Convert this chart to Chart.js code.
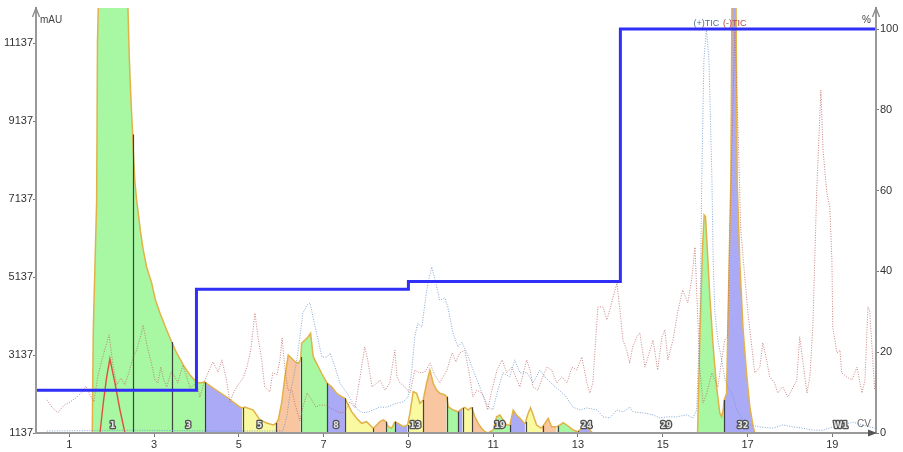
<!DOCTYPE html>
<html>
<head>
<meta charset="utf-8">
<script src="https://cdn.jsdelivr.net/npm/chart.js@4.4.1/dist/chart.umd.min.js"></script>
<style>
  html, body { margin: 0; padding: 0; background: #fff; }
</style>
</head>
<body>
<canvas id="chart" width="903" height="452"></canvas>
<script>
// axis ticks
const cvTicks = [1, 3, 5, 7, 9, 11, 13, 15, 17, 19];
const mauTicks = [1137, 3137, 5137, 7137, 9137, 11137];
const pctTicks = [0, 20, 40, 60, 80, 100];

// gradient (% B) - [CV, %]
const gradient = [[0.215, 10.6], [4.0, 35.6], [9.0, 37.5], [14.0, 100], [20.03, 100]];

// UV trace - [CV, mAU]
const uv = [
  [0.215, 1137], [1.542, 1137], [1.566, 3781], [1.646, 7118], [1.665, 11148], [1.684, 12047],
  [1.72, 13500], [2.0, 14200], [2.3, 13600], [2.384, 12047], [2.415, 10789], [2.455, 9685],
  [2.491, 8915], [2.509, 8402], [2.55, 7555], [2.59, 7118], [2.684, 6271], [2.745, 5835],
  [2.825, 5398], [2.943, 4988], [3.033, 4551], [3.139, 4217], [3.297, 3781], [3.415, 3473],
  [3.533, 3191], [3.689, 2883], [3.847, 2626], [4.005, 2446], [4.083, 2421], [4.177, 2446],
  [4.2, 2440], [4.396, 2292], [4.712, 2061], [5.026, 1804], [5.08, 1779], [5.144, 1804],
  [5.34, 1727], [5.498, 1471], [5.656, 1394], [5.811, 1342], [5.875, 1381], [5.929, 1471],
  [6.009, 1907], [6.087, 2582], [6.165, 3139], [6.245, 3055], [6.323, 2967], [6.401, 2926],
  [6.458, 3011], [6.481, 3440], [6.559, 3524], [6.637, 3609], [6.693, 3696], [6.755, 3096],
  [6.835, 2926], [6.953, 2670], [7.085, 2413], [7.189, 2326], [7.307, 2156], [7.425, 2069],
  [7.502, 2028], [7.542, 1940], [7.66, 1684], [7.778, 1514], [7.896, 1386], [8.014, 1427],
  [8.132, 1299], [8.17, 1258], [8.25, 1342], [8.328, 1427], [8.406, 1471], [8.469, 1427],
  [8.524, 1299], [8.604, 1258], [8.682, 1427], [8.759, 1386], [8.877, 1299], [8.981, 1342],
  [9.035, 1643], [9.113, 2197], [9.193, 2156], [9.271, 1899], [9.349, 1984], [9.429, 2413],
  [9.507, 2754], [9.585, 2413], [9.665, 2241], [9.743, 2156], [9.861, 2112], [9.901, 2069],
  [9.939, 1812], [10.057, 1727], [10.175, 1684], [10.215, 1727], [10.278, 1771], [10.333, 1797],
  [10.41, 1727], [10.491, 1797], [10.568, 1555], [10.646, 1386], [10.726, 1258], [10.804, 1170],
  [10.882, 1137], [11.0, 1214], [11.08, 1555], [11.158, 1599], [11.236, 1471], [11.316, 1342],
  [11.394, 1342], [11.472, 1727], [11.552, 1599], [11.67, 1471], [11.748, 1368], [11.826, 1643],
  [11.882, 1786], [11.943, 1599], [12.024, 1342], [12.141, 1258], [12.219, 1386], [12.297, 1514],
  [12.377, 1299], [12.495, 1299], [12.573, 1342], [12.651, 1401], [12.769, 1317], [12.887, 1214],
  [12.991, 1170], [13.085, 1258], [13.163, 1342], [13.281, 1214], [13.344, 1137], [15.821, 1137],
  [15.851, 2497], [15.892, 4210], [15.939, 5919], [15.976, 6733], [16.009, 6689], [16.047, 5919],
  [16.111, 4636], [16.189, 3352], [16.269, 2326], [16.347, 1643], [16.387, 1555], [16.425, 1727],
  [16.448, 1984], [16.505, 2156], [16.542, 4210], [16.582, 6348], [16.606, 7632], [16.64, 13500],
  [16.72, 13500], [16.755, 7632], [16.818, 5493], [16.896, 3781], [16.976, 2670], [17.054, 1812],
  [17.132, 1299], [17.172, 1137], [20.03, 1137]
];

// second UV wavelength - [CV, mAU]
const uv2 = [[1.724, 1137], [1.802, 1907], [1.882, 2575], [1.958, 3037], [2.077, 2421], [2.196, 1727], [2.314, 1137]];

// (+)TIC - [CV, %]
const ticPlus = [
  [0.47, 0.5], [2.5, 0.7], [4.5, 0.5], [6.04, 0.5], [6.13, 4.0], [6.21, 9.9], [6.28, 13.1], [6.37, 18.1],
  [6.44, 23.8], [6.51, 29.7], [6.61, 31.7], [6.68, 32.2], [6.75, 28.7], [6.87, 23.0], [6.96, 18.8],
  [7.08, 18.8], [7.15, 19.8], [7.27, 16.3], [7.38, 12.4], [7.55, 9.9], [7.69, 7.4], [7.81, 5.7],
  [7.93, 5.0], [8.05, 5.2], [8.16, 5.7], [8.33, 6.4], [8.49, 6.4], [8.61, 6.9], [8.73, 7.4], [8.87, 7.7],
  [8.99, 8.9], [9.08, 15.6], [9.15, 23.8], [9.22, 27.2], [9.32, 26.2], [9.39, 32.2], [9.46, 37.1],
  [9.55, 41.1], [9.63, 37.9], [9.74, 32.9], [9.86, 33.4], [9.93, 31.2], [10.05, 24.8], [10.17, 21.3],
  [10.26, 22.5], [10.38, 19.8], [10.5, 16.3], [10.62, 13.1], [10.73, 10.1], [10.88, 6.4], [10.99, 5.7],
  [11.11, 10.6], [11.23, 14.9], [11.39, 13.9], [11.51, 18.1], [11.63, 14.9], [11.8, 14.9], [11.94, 12.4],
  [12.1, 15.6], [12.22, 13.9], [12.34, 12.6], [12.5, 11.1], [12.69, 9.4], [12.88, 6.4], [13.05, 5.7],
  [13.21, 6.2], [13.45, 5.7], [13.59, 4.0], [13.75, 3.7], [13.92, 5.7], [14.06, 5.2], [14.22, 6.4],
  [14.3, 5.2], [14.53, 5.0], [14.77, 4.5], [14.93, 3.7], [15.1, 4.0], [15.33, 4.0], [15.57, 4.5],
  [15.71, 3.7], [15.8, 5.7], [15.88, 29.7], [15.92, 62.6], [15.97, 92.3], [16.03, 100], [16.09, 92.3],
  [16.16, 62.6], [16.19, 42.1], [16.23, 29.7], [16.3, 23.0], [16.39, 18.1], [16.47, 13.1], [16.54, 11.4],
  [16.63, 9.9], [16.75, 5.7], [16.89, 3.2], [17.05, 2.0], [17.29, 1.5], [17.6, 1.2], [17.83, 2.0],
  [18.07, 1.5], [18.3, 1.2], [18.54, 0.7], [18.78, 0.7], [19.01, 1.5], [19.25, 2.0], [19.48, 2.7],
  [19.72, 2.0], [20.0, 1.2]
];

// (-)TIC - [CV, %]
const ticMinus = [
  [0.47, 8.2], [0.59, 6.4], [0.73, 5.0], [0.88, 6.9], [1.02, 7.7], [1.16, 8.7], [1.3, 10.1], [1.39, 11.6],
  [1.49, 9.4], [1.58, 7.7], [1.68, 14.4], [1.77, 18.1], [1.87, 21.8], [1.94, 24.3], [2.03, 16.8],
  [2.12, 11.9], [2.22, 13.6], [2.31, 11.9], [2.41, 15.1], [2.5, 18.6], [2.59, 20.5], [2.69, 24.3],
  [2.74, 26.7], [2.83, 21.8], [2.93, 17.6], [3.02, 13.1], [3.09, 12.4], [3.16, 16.3], [3.23, 13.1],
  [3.3, 11.4], [3.4, 15.1], [3.47, 14.4], [3.56, 12.4], [3.68, 16.8], [3.78, 13.6], [3.85, 11.1],
  [3.94, 11.9], [4.01, 12.4], [4.08, 8.9], [4.2, 13.1], [4.3, 15.6], [4.39, 17.6], [4.51, 15.1],
  [4.6, 18.1], [4.7, 13.6], [4.79, 7.7], [4.88, 10.1], [4.98, 11.9], [5.1, 13.6], [5.19, 16.3],
  [5.28, 20.5], [5.38, 29.7], [5.45, 23.8], [5.54, 18.1], [5.61, 11.4], [5.73, 10.1], [5.8, 14.9],
  [5.9, 14.4], [5.97, 18.1], [6.02, 23.5], [6.09, 15.6], [6.16, 10.6], [6.25, 10.6], [6.32, 7.4],
  [6.44, 3.0], [6.51, 6.4], [6.61, 9.9], [6.72, 8.2], [6.82, 6.4], [6.91, 6.9], [7.03, 6.9], [7.15, 6.2],
  [7.24, 5.7], [7.38, 5.0], [7.5, 5.2], [7.62, 7.7], [7.74, 6.2], [7.86, 13.9], [7.97, 21.3], [8.04, 18.1],
  [8.14, 11.4], [8.26, 12.4], [8.33, 13.1], [8.45, 10.6], [8.56, 12.4], [8.68, 20.5], [8.73, 13.9],
  [8.8, 12.4], [8.92, 11.4], [9.04, 9.9], [9.15, 15.6], [9.27, 14.9], [9.39, 15.1], [9.51, 17.3],
  [9.62, 14.4], [9.74, 12.4], [9.91, 15.6], [10.03, 19.8], [10.12, 17.6], [10.21, 19.8], [10.33, 20.5],
  [10.45, 13.9], [10.52, 8.9], [10.61, 10.6], [10.73, 9.9], [10.8, 8.2], [10.87, 5.7], [10.97, 10.6],
  [11.09, 15.6], [11.21, 18.1], [11.32, 14.9], [11.44, 16.3], [11.56, 13.1], [11.63, 11.4], [11.79, 18.1],
  [11.87, 15.6], [11.94, 11.4], [12.05, 10.6], [12.17, 13.9], [12.27, 16.3], [12.38, 15.6], [12.5, 12.4],
  [12.62, 13.9], [12.74, 12.4], [12.86, 16.3], [12.97, 15.6], [13.09, 18.8], [13.21, 12.4], [13.28, 9.9],
  [13.35, 12.4], [13.47, 31.2], [13.59, 31.2], [13.68, 28.0], [13.75, 30.4], [13.82, 33.4], [13.92, 37.1],
  [13.99, 30.4], [14.06, 23.0], [14.15, 20.5], [14.22, 17.3], [14.29, 21.3], [14.39, 23.8], [14.46, 24.8],
  [14.58, 16.3], [14.65, 18.8], [14.77, 23.0], [14.88, 15.6], [14.98, 23.8], [15.05, 25.5], [15.12, 18.1],
  [15.24, 23.0], [15.36, 30.4], [15.47, 35.4], [15.59, 32.2], [15.69, 38.6], [15.76, 46.0], [15.83, 27.2],
  [15.87, 16.3], [15.95, 7.4], [16.04, 9.9], [16.16, 14.9], [16.23, 13.1], [16.3, 11.4], [16.39, 18.1],
  [16.46, 23.0], [16.53, 23.8], [16.6, 57.7], [16.7, 100], [16.77, 77.5], [16.84, 50.2], [16.94, 37.9],
  [17.01, 29.7], [17.1, 21.3], [17.17, 14.9], [17.29, 16.3], [17.36, 22.3], [17.45, 18.1], [17.52, 13.9],
  [17.64, 12.4], [17.71, 9.9], [17.83, 11.4], [17.95, 8.9], [18.04, 10.6], [18.16, 13.1], [18.23, 23.8],
  [18.3, 18.1], [18.4, 9.9], [18.47, 13.9], [18.54, 26.2], [18.63, 59.4], [18.73, 84.9], [18.78, 70.0],
  [18.87, 59.4], [18.94, 55.9], [18.99, 42.8], [19.01, 26.2], [19.11, 19.8], [19.18, 20.5], [19.22, 14.9],
  [19.34, 13.9], [19.46, 13.1], [19.58, 16.3], [19.7, 9.9], [19.77, 13.1], [19.84, 31.2], [19.88, 30.4],
  [20.0, 10.6]
];

// fractions: start CV of fractions 1..32, then end of 32
const fracEdges = [1.542, 2.495, 3.415, 4.2, 5.09, 5.882, 6.462, 7.085, 7.502, 8.17, 8.469, 8.682,
  8.981, 9.349, 9.901, 10.175, 10.292, 10.491, 10.92, 11.394, 11.764, 12.179, 12.519, 13.005,
  13.4, 13.77, 14.13, 14.49, 14.85, 15.3, 15.7, 16.448, 17.33];
const fracPool = ['g', 'g', 'g', 'b', 'y', 'o', 'g', 'b', 'y', 'o', 'g', 'b', 'y', 'o', 'g', 'b',
  'y', 'o', 'g', 'b', 'y', 'o', 'g', 'b', 'y', 'o', 'g', 'b', 'y', 'o', 'g', 'b'];
const fracLabels = [1, 3, 5, 8, 13, 19, 24, 29, 32];
const wasteLabel = 'W1';
const wasteCv = 19.2;

const poolFill = { g: '#a8f7a2', b: '#aaaaf6', y: '#f9f9a2', o: '#f8c6a0' };
const FONT = 'Liberation Sans, Arial, sans-serif';

const pts = arr => arr.map(([x, y]) => ({ x, y }));

function poolAt(cv) {
  for (let i = 0; i < fracPool.length; i++) {
    if (cv >= fracEdges[i] && cv < fracEdges[i + 1]) return poolFill[fracPool[i]];
  }
  return 'rgba(0,0,0,0)';
}

function uvAt(cv) {
  for (let i = 1; i < uv.length; i++) {
    if (cv <= uv[i][0]) {
      const [x0, y0] = uv[i - 1], [x1, y1] = uv[i];
      return y0 + (y1 - y0) * (cv - x0) / (x1 - x0);
    }
  }
  return uv[uv.length - 1][1];
}

function maxPoint(arr) {
  return arr.reduce((m, p) => (p[1] > m[1] ? p : m), arr[0]);
}

const UV_INDEX = 4;

const overlay = {
  id: 'overlay',
  afterDatasetDraw(chart, args) {
    if (args.index !== UV_INDEX) return;
    const ctx = chart.ctx, xs = chart.scales.x, ys = chart.scales.y, a = chart.chartArea;
    ctx.save();
    ctx.beginPath();
    ctx.rect(a.left, a.top, a.right - a.left, a.bottom - a.top);
    ctx.clip();
    ctx.strokeStyle = 'rgba(40,40,40,0.85)';
    ctx.lineWidth = 1.2;
    for (let i = 1; i < fracEdges.length - 1; i++) {
      const v = uvAt(fracEdges[i]);
      if (v <= mauTicks[0] + 30) continue;
      const x = Math.round(xs.getPixelForValue(fracEdges[i])) + 0.5;
      ctx.beginPath();
      ctx.moveTo(x, ys.getPixelForValue(mauTicks[0]));
      ctx.lineTo(x, Math.max(a.top, ys.getPixelForValue(v)));
      ctx.stroke();
    }
    ctx.restore();
  },
  afterDraw(chart) {
    const ctx = chart.ctx, xs = chart.scales.x, y2 = chart.scales.y2, a = chart.chartArea;
    ctx.save();

    // axis arrows
    ctx.strokeStyle = '#888';
    ctx.fillStyle = '#555';
    ctx.lineWidth = 1.3;
    [a.left, a.right].forEach(x => {
      ctx.beginPath();
      ctx.moveTo(x - 3.5, a.top + 9);
      ctx.lineTo(x, a.top);
      ctx.lineTo(x + 3.5, a.top + 9);
      ctx.stroke();
    });
    ctx.beginPath();
    ctx.moveTo(a.right + 1, a.bottom);
    ctx.lineTo(a.right - 8, a.bottom - 3.5);
    ctx.lineTo(a.right - 8, a.bottom + 3.5);
    ctx.closePath();
    ctx.fill();

    // axis titles
    ctx.font = '10px ' + FONT;
    ctx.textBaseline = 'middle';
    ctx.fillStyle = '#444';
    ctx.textAlign = 'left';
    ctx.fillText('mAU', a.left + 4, 20);
    ctx.textAlign = 'right';
    ctx.fillText('%', a.right - 5, 20);
    ctx.fillStyle = '#666';
    ctx.textAlign = 'center';
    ctx.fillText('CV', a.right - 12, a.bottom - 9);

    // TIC labels at trace maxima
    ctx.font = '9px ' + FONT;
    ctx.textBaseline = 'bottom';
    const mp = maxPoint(ticPlus), mm = maxPoint(ticMinus);
    ctx.fillStyle = '#50709e';
    ctx.fillText('(+)TIC', xs.getPixelForValue(mp[0]), y2.getPixelForValue(mp[1]) - 1);
    ctx.fillStyle = '#b04848';
    ctx.fillText('(-)TIC', xs.getPixelForValue(mm[0]), y2.getPixelForValue(mm[1]) - 1);

    // fraction labels
    ctx.font = 'bold 8px DejaVu Sans, sans-serif';
    ctx.textBaseline = 'middle';
    ctx.lineJoin = 'round';
    ctx.lineWidth = 2.6;
    ctx.strokeStyle = '#505050';
    ctx.fillStyle = '#e4e4e4';
    const ly = a.bottom - 7;
    const labels = fracLabels.map(n => [String(n), (fracEdges[n - 1] + fracEdges[n]) / 2]);
    labels.push([wasteLabel, wasteCv]);
    labels.forEach(([t, cv]) => {
      const x = xs.getPixelForValue(cv);
      ctx.strokeText(t, x, ly);
      ctx.fillText(t, x, ly);
    });
    ctx.restore();
  }
};

const tickFont = { family: FONT, size: 11 };

new Chart(document.getElementById('chart'), {
  type: 'line',
  data: {
    datasets: [
      {
        label: 'gradient', data: pts(gradient), yAxisID: 'y2', stepped: 'before',
        borderColor: '#2f2ff8', borderWidth: 3, fill: false, pointRadius: 0
      },
      {
        label: '(-)TIC', data: pts(ticMinus), yAxisID: 'y2',
        borderColor: 'rgba(190,100,100,0.8)', borderWidth: 1, borderDash: [1, 1.5], fill: false, pointRadius: 0
      },
      {
        label: '(+)TIC', data: pts(ticPlus), yAxisID: 'y2',
        borderColor: 'rgba(110,150,205,0.85)', borderWidth: 1, borderDash: [1, 1.5], fill: false, pointRadius: 0
      },
      {
        label: 'UV2', data: pts(uv2), yAxisID: 'y',
        borderColor: '#e0503c', borderWidth: 1.4, fill: false, pointRadius: 0
      },
      {
        label: 'UV', data: pts(uv), yAxisID: 'y',
        borderColor: 'rgb(226,178,72)', borderWidth: 1.5, pointRadius: 0,
        backgroundColor: 'rgba(0,0,0,0)', fill: 'start',
        segment: { backgroundColor: c => poolAt((c.p0.parsed.x + c.p1.parsed.x) / 2) }
      }
    ]
  },
  options: {
    responsive: false,
    animation: false,
    events: [],
    layout: { padding: { top: 8, left: 0, right: 0, bottom: 0 } },
    elements: { line: { tension: 0 } },
    plugins: { legend: { display: false }, tooltip: { enabled: false } },
    scales: {
      x: {
        type: 'linear', min: 0.215, max: 20.03,
        afterBuildTicks: s => { s.ticks = cvTicks.map(v => ({ value: v })); },
        afterFit: s => { s.height = 19; },
        grid: { drawOnChartArea: false, tickLength: 4, tickColor: '#777' },
        border: { color: '#999', width: 2, z: 1 },
        ticks: { color: '#333', font: tickFont, padding: 1, maxRotation: 0, autoSkip: false, callback: v => String(v) }
      },
      y: {
        position: 'left', min: 1137, max: 12045,
        afterBuildTicks: s => { s.ticks = mauTicks.map(v => ({ value: v })); },
        afterFit: s => { s.width = 36; },
        grid: { drawOnChartArea: false, tickLength: 3, tickColor: '#777' },
        border: { color: '#999', width: 2, z: 1 },
        ticks: { color: '#333', font: tickFont, padding: 0, callback: v => String(v) }
      },
      y2: {
        position: 'right', min: 0, max: 105.2,
        afterBuildTicks: s => { s.ticks = pctTicks.map(v => ({ value: v })); },
        afterFit: s => { s.width = 27; },
        grid: { drawOnChartArea: false, tickLength: 3, tickColor: '#777' },
        border: { color: '#999', width: 2, z: 1 },
        ticks: { color: '#333', font: tickFont, padding: 1, callback: v => String(v) }
      }
    }
  },
  plugins: [overlay]
});
</script>
</body>
</html>
